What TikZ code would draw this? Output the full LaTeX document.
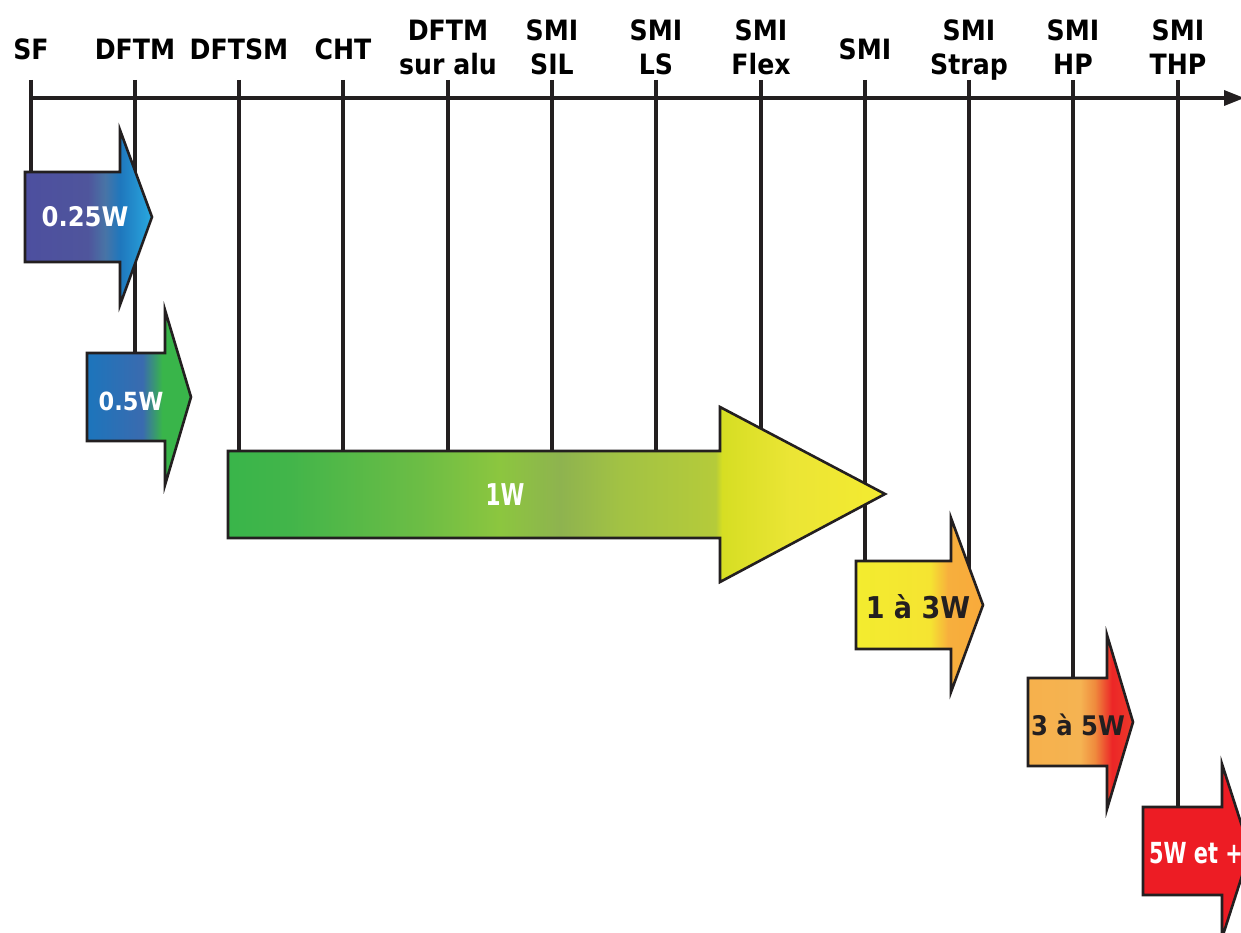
\documentclass[tikz,border=0pt]{standalone}
\usepackage{fontspec}
\newfontfamily\lblfont{DejaVu Sans Condensed}

% palette
\definecolor{ink}{HTML}{231F20}
\definecolor{pA1}{HTML}{4D4F9F}\definecolor{pA2}{HTML}{4F559C}
\definecolor{pA3}{HTML}{4874A6}\definecolor{pA4}{HTML}{1F77BD}
\definecolor{pA5}{HTML}{29A9E0}
\definecolor{pB1}{HTML}{1C75BC}\definecolor{pB2}{HTML}{3A6BAF}
\definecolor{pB3}{HTML}{39B54A}
\definecolor{pC1}{HTML}{39B54A}\definecolor{pC2}{HTML}{42B54A}
\definecolor{pC3}{HTML}{6CBD45}\definecolor{pC4}{HTML}{8CC63F}
\definecolor{pC5}{HTML}{8EB34F}\definecolor{pC6}{HTML}{A2C244}
\definecolor{pC7}{HTML}{B5CB3A}\definecolor{pC8}{HTML}{D6DE23}
\definecolor{pC9}{HTML}{EBE535}\definecolor{pC10}{HTML}{F4EB30}
\definecolor{pD1}{HTML}{F3EC2F}\definecolor{pD2}{HTML}{F5E431}
\definecolor{pD3}{HTML}{F7AF3D}\definecolor{pD4}{HTML}{F8AA3B}
\definecolor{pE1}{HTML}{F6B14C}\definecolor{pE2}{HTML}{F5B352}
\definecolor{pE3}{HTML}{EF8A3D}\definecolor{pE4}{HTML}{EC2627}
\definecolor{pE5}{HTML}{EE3A2A}
\definecolor{pF}{HTML}{ED1C24}

% horizontal shadings: the path's bounding box spans 25bp..75bp
\pgfdeclarehorizontalshading{shA}{100bp}{color(0bp)=(pA1); color(25bp)=(pA1);
  color(49.8bp)=(pA2); color(56.5bp)=(pA3); color(62.4bp)=(pA4);
  color(75bp)=(pA5); color(100bp)=(pA5)}
\pgfdeclarehorizontalshading{shB}{100bp}{color(0bp)=(pB1); color(25bp)=(pB1);
  color(51.7bp)=(pB2); color(61.2bp)=(pB3); color(75bp)=(pB3); color(100bp)=(pB3)}
\pgfdeclarehorizontalshading{shC}{100bp}{color(0bp)=(pC1); color(25bp)=(pC1);
  color(29.7bp)=(pC2); color(39.6bp)=(pC3); color(45.7bp)=(pC4);
  color(50.3bp)=(pC5); color(54.8bp)=(pC6); color(62.1bp)=(pC7);
  color(62.6bp)=(pC8); color(67.8bp)=(pC9); color(75bp)=(pC10); color(100bp)=(pC10)}
\pgfdeclarehorizontalshading{shD}{100bp}{color(0bp)=(pD1); color(25bp)=(pD1);
  color(54.1bp)=(pD2); color(61.2bp)=(pD3); color(75bp)=(pD4); color(100bp)=(pD4)}
\pgfdeclarehorizontalshading{shE}{100bp}{color(0bp)=(pE1); color(25bp)=(pE1);
  color(49.8bp)=(pE2); color(56.9bp)=(pE3); color(65bp)=(pE4);
  color(75bp)=(pE5); color(100bp)=(pE5)}

\begin{document}
\begin{tikzpicture}[x=1pt,y=-1pt,
  lbl/.style={font=\lblfont\bfseries\fontsize{28}{34}\selectfont, text=black,
    inner sep=0pt, align=center, anchor=base},
  stem/.style={draw=ink, line width=4.3pt},
  axisline/.style={draw=ink, line width=4.5pt},
  power/.style={draw=ink, line width=2.6pt, line join=miter},
  wtext/.style={font=\lblfont\bfseries\fontsize{27}{32}\selectfont, inner sep=0pt}]
\useasboundingbox (0,0) rectangle (1241,933);
\clip (0,0) rectangle (1241,933);

% tick tops on the axis
\foreach \n/\x in {SF/31, DFTM/135, DFTSM/239, CHT/343, DFTMalu/448, SIL/552,
                   LS/656, Flex/761, SMI/865, Strap/969, HP/1073, THP/1178}
  \coordinate (t\n) at (\x,80);

% body top-left corners of the power arrows
\coordinate (wA) at (25,172);
\coordinate (wB) at (87,353);
\coordinate (wC) at (228,451);
\coordinate (wD) at (856,561);
\coordinate (wE) at (1028,678);
\coordinate (wF) at (1143,807);
\coordinate (wCtip) at (885,494);
\coordinate (wDtip) at (983,605);

% axis
\coordinate (axL) at (31,98);
\coordinate (axR) at (1228,98);
\draw[axisline] (axL) -- (axR);
\fill[ink] (1224,90) -- (1244,98) -- (1224,106) -- cycle;

% technology labels (base = baseline of the last line)
\node[lbl] (lSF)    at (31,60)   {SF};
\node[lbl] (lDFTM)  at (135,60)  {DFTM};
\node[lbl] (lDFTSM) at (239,60)  {DFTSM};
\node[lbl] (lCHT)   at (343,60)  {CHT};
\node[lbl] (lAlu)   at (448,75)  {DFTM\\sur alu};
\node[lbl] (lSIL)   at (552,75)  {SMI\\SIL};
\node[lbl] (lLS)    at (656,75)  {SMI\\LS};
\node[lbl] (lFlex)  at (761,75)  {SMI\\Flex};
\node[lbl] (lSMI)   at (865,60)  {SMI};
\node[lbl] (lStrap) at (969,75)  {SMI\\Strap};
\node[lbl] (lHP)    at (1073,75) {SMI\\HP};
\node[lbl] (lTHP)   at (1178,75) {SMI\\THP};

% drop lines from the axis to the power classes
\draw[stem] (tSF) -- (tSF |- wA);
\draw[stem] (tDFTM) -- (tDFTM |- wB);
\foreach \n in {DFTSM, CHT, DFTMalu, SIL, LS}
  \draw[stem] (t\n) -- (t\n |- wC);
\draw[stem] (tFlex) -- (tFlex |- wCtip);
\draw[stem] (tSMI) -- (tSMI |- wD);
\draw[stem] (tStrap) -- (tStrap |- wDtip);
\draw[stem] (tHP) -- (tHP |- wE);
\draw[stem] (tTHP) -- (tTHP |- wF);

% power arrows
\path[power, shading=shA] (25,172) -- (120,172) -- (120,130) -- (152,217)
  -- (120,305) -- (120,262) -- (25,262) -- cycle;
\path[power, shading=shB] (87,353) -- (165,353) -- (165,310) -- (191,397)
  -- (165,485) -- (165,441) -- (87,441) -- cycle;
\path[power, shading=shC] (228,451) -- (720,451) -- (720,407) -- (885,494)
  -- (720,582) -- (720,538) -- (228,538) -- cycle;
\path[power, shading=shD] (856,561) -- (951,561) -- (951,518) -- (983,605)
  -- (951,692) -- (951,649) -- (856,649) -- cycle;
\path[power, shading=shE] (1028,678) -- (1107,678) -- (1107,635) -- (1133,722)
  -- (1107,809) -- (1107,766) -- (1028,766) -- cycle;
\path[power, fill=pF] (1143,807) -- (1222,807) -- (1222,764) -- (1250,851)
  -- (1222,938) -- (1222,895) -- (1143,895) -- cycle;

% power labels
\node[wtext, text=white] (pA) at (85,217) {0.25W};
\node[wtext, text=white, font=\lblfont\bfseries\fontsize{25}{30}\selectfont] (pB) at (131,401) {0.5W};
\node[wtext, text=white, xscale=0.8, font=\lblfont\bfseries\fontsize{30}{34}\selectfont] (pC) at (505,495) {1W};
\node[wtext, text=ink, font=\lblfont\bfseries\fontsize{30}{36}\selectfont] (pD) at (918,607) {1 à 3W};
\node[wtext, text=ink, font=\lblfont\bfseries\fontsize{27}{32}\selectfont] (pE) at (1078,725) {3 à 5W};
\node[wtext, text=white, xscale=0.8, font=\lblfont\bfseries\fontsize{29}{34}\selectfont] (pF) at (1196,853) {5W et +};
\end{tikzpicture}
\end{document}
